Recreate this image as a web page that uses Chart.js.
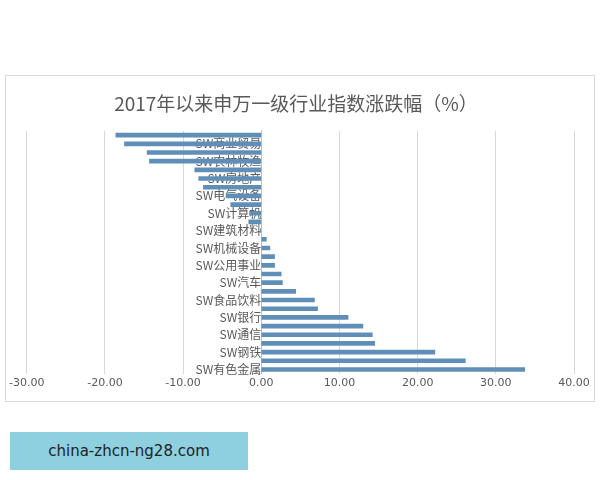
<!DOCTYPE html>
<html>
<head>
<meta charset="utf-8">
<script src="https://cdn.jsdelivr.net/npm/chart.js@4/dist/chart.umd.min.js"></script>
<style>
  body { margin: 0; background: #fff; width: 600px; height: 480px; position: relative; font-family: "Noto Sans CJK SC", sans-serif; }
  #box { position: absolute; left: 5px; top: 75px; width: 588px; height: 325px; border: 1px solid #d9d9d9; }
  #tag { position: absolute; left: 10px; top: 432px; width: 238px; height: 38px; background: #8ecfe0;
         color: #222; font: 15px "DejaVu Sans", sans-serif; line-height: 38px; text-align: center; }
</style>
</head>
<body>
<div id="box"><canvas id="c"></canvas></div>
<div id="tag">china-zhcn-ng28.com</div>
<script>
// industries, top to bottom
const industries = [
  "SW传媒", "SW商业贸易", "SW纺织服装", "SW农林牧渔", "SW综合", "SW房地产", "SW轻工制造",
  "SW电气设备", "SW国防军工", "SW计算机", "SW化工", "SW建筑材料", "SW交通运输", "SW机械设备",
  "SW医药生物", "SW公用事业", "SW建筑装饰", "SW汽车", "SW采掘", "SW食品饮料", "SW非银金融",
  "SW银行", "SW休闲服务", "SW通信", "SW家用电器", "SW钢铁", "SW电子", "SW有色金属"
];
const changes = [
  -18.6, -17.5, -14.6, -14.3, -8.5, -8.0, -7.4, -4.5, -3.9, -1.5, -1.6, -0.1, 0.65, 1.1,
  1.7, 1.7, 2.55, 2.7, 4.4, 6.8, 7.2, 11.1, 13.0, 14.2, 14.5, 22.2, 26.1, 33.7
];
const xTicks = [-30, -20, -10, 0, 10, 20, 30, 40];

new Chart(document.getElementById("c"), {
  type: "bar",
  data: {
    labels: industries,
    datasets: [{ data: changes, backgroundColor: "#5f8fb8", barThickness: 4 }]
  },
  options: {
    indexAxis: "y",
    responsive: true,
    maintainAspectRatio: false,
    animation: false,
    layout: { padding: { left: 12, right: 20, top: 4, bottom: 8 } },
    plugins: {
      legend: { display: false },
      tooltip: { enabled: false },
      title: {
        display: true,
        text: "2017年以来申万一级行业指数涨跌幅（%）",
        color: "#595959",
        font: { size: 19, family: "Noto Sans CJK SC", weight: "normal" },
        padding: { top: 12, bottom: 16 }
      }
    },
    scales: {
      x: {
        min: -30, max: 40,
        afterBuildTicks: s => { s.ticks = xTicks.map(v => ({ value: v })); },
        ticks: { callback: v => Number(v).toFixed(2), color: "#595959", font: { size: 11, family: "DejaVu Sans" } },
        grid: { color: "#d9d9d9", drawTicks: false },
        border: { display: false }
      },
      y: {
        position: { x: 0 },
        grid: { display: false },
        border: { color: "#bfbfbf" },
        ticks: {
          autoSkip: false,
          color: "#595959",
          font: { size: 12, family: "Noto Sans CJK SC" },
          padding: 9,
          callback: function (v, i) { return i % 2 === 1 ? this.getLabelForValue(v) : ""; }
        }
      }
    }
  }
});
</script>
</body>
</html>
